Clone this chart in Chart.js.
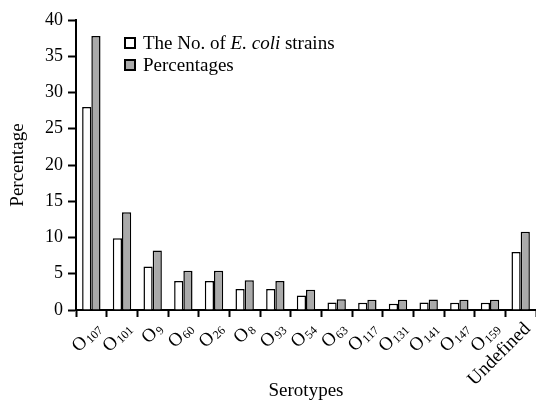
<!DOCTYPE html>
<html>
<head>
<meta charset="utf-8">
<script src="https://cdn.jsdelivr.net/npm/chart.js@4/dist/chart.umd.min.js"></script>
<style>
  html, body { margin: 0; padding: 0; background: #fff; }
  #wrap { width: 536px; height: 402px; }
</style>
</head>
<body>
<div id="wrap"><canvas id="chart"></canvas></div>
<script>
// Serotype categories and the two series
const serotypes = ['O107', 'O101', 'O9', 'O60', 'O26', 'O8', 'O93', 'O54', 'O63', 'O117', 'O131', 'O141', 'O147', 'O159', 'Undefined'];
const strainCounts = [28, 9.9, 6, 4, 4, 2.9, 2.9, 2, 1.05, 1, 0.85, 1.05, 1, 1, 8];
const percentages = [37.8, 13.5, 8.2, 5.4, 5.4, 4.1, 4.0, 2.8, 1.5, 1.4, 1.4, 1.45, 1.4, 1.4, 10.8];
const yTicks = [0, 5, 10, 15, 20, 25, 30, 35, 40];

const SERIF = '"Liberation Serif", "Times New Roman", serif';

// legend with the italic "E. coli" part
const legendParts = [
  [['The No. of ', 'normal'], ['E. coli', 'italic'], [' strains', 'normal']],
  [['Percentages', 'normal']]
];

const customDraw = {
  id: 'customDraw',
  afterDraw(chart) {
    const ctx = chart.ctx;
    const x = chart.scales.x;

    // x labels: big "O" with subscript number, rotated 45°
    ctx.save();
    ctx.fillStyle = '#000';
    serotypes.forEach((lab, i) => {
      const cx = x.getPixelForValue(i);
      ctx.save();
      ctx.translate(cx + 7, x.top + 16);
      ctx.rotate(-Math.PI / 4);
      ctx.textBaseline = 'middle';
      ctx.textAlign = 'left';
      if (/^O\d+$/.test(lab)) {
        const sub = lab.slice(1);
        ctx.font = '12px ' + SERIF;
        const sw = ctx.measureText(sub).width;
        ctx.font = '19px ' + SERIF;
        const ow = ctx.measureText('O').width;
        ctx.fillText('O', -sw - ow - 1, 0);
        ctx.font = '12px ' + SERIF;
        ctx.fillText(sub, -sw, 4);
      } else {
        ctx.font = '19px ' + SERIF;
        const w = ctx.measureText(lab).width;
        ctx.fillText(lab, -w, 0);
      }
      ctx.restore();
    });
    ctx.restore();

    // legend
    ctx.save();
    const lx = 125, ly = [43, 65];
    chart.data.datasets.forEach((ds, i) => {
      ctx.fillStyle = ds.backgroundColor;
      ctx.strokeStyle = '#000';
      ctx.lineWidth = 2;
      ctx.fillRect(lx, ly[i] - 5, 10, 10);
      ctx.strokeRect(lx, ly[i] - 5, 10, 10);
      let tx = lx + 18;
      ctx.fillStyle = '#000';
      ctx.textBaseline = 'middle';
      legendParts[i].forEach(([txt, style]) => {
        ctx.font = style + ' 19px ' + SERIF;
        ctx.fillText(txt, tx, ly[i] + 1);
        tx += ctx.measureText(txt).width;
      });
    });
    ctx.restore();
  }
};

new Chart(document.getElementById('chart'), {
  type: 'bar',
  data: {
    labels: serotypes,
    datasets: [
      { label: 'The No. of E. coli strains', data: strainCounts, backgroundColor: '#ffffff',
        borderColor: '#000', borderWidth: 1.5, barPercentage: 1, categoryPercentage: 0.6 },
      { label: 'Percentages', data: percentages, backgroundColor: '#aaaaaa',
        borderColor: '#000', borderWidth: 1.5, barPercentage: 1, categoryPercentage: 0.6 }
    ]
  },
  options: {
    responsive: true,
    maintainAspectRatio: false,
    animation: false,
    layout: { padding: { top: 20, right: 0, bottom: 0, left: 0 } },
    plugins: { legend: { display: false }, tooltip: { enabled: false } },
    scales: {
      x: {
        afterFit(s) { s.height = 92; },
        border: { color: '#000', width: 2 },
        grid: { offset: true, drawOnChartArea: false, drawTicks: true, tickLength: 7, tickColor: '#000', tickWidth: 2 },
        ticks: { display: false },
        title: { display: true, text: 'Serotypes', color: '#000', font: { family: SERIF, size: 19 }, padding: { top: 0, bottom: 0 } }
      },
      y: {
        min: 0, max: 40,
        afterFit(s) { s.width = 76; },
        afterBuildTicks(s) { s.ticks = yTicks.map(v => ({ value: v })); },
        border: { color: '#000', width: 2 },
        grid: { drawOnChartArea: false, drawTicks: true, tickLength: 8, tickColor: '#000', tickWidth: 2 },
        ticks: { color: '#000', padding: 5, font: { family: SERIF, size: 18 } },
        title: { display: true, text: 'Percentage', color: '#000', font: { family: SERIF, size: 19 }, padding: { top: 7, bottom: 0 } }
      }
    }
  },
  plugins: [customDraw]
});
</script>
</body>
</html>
